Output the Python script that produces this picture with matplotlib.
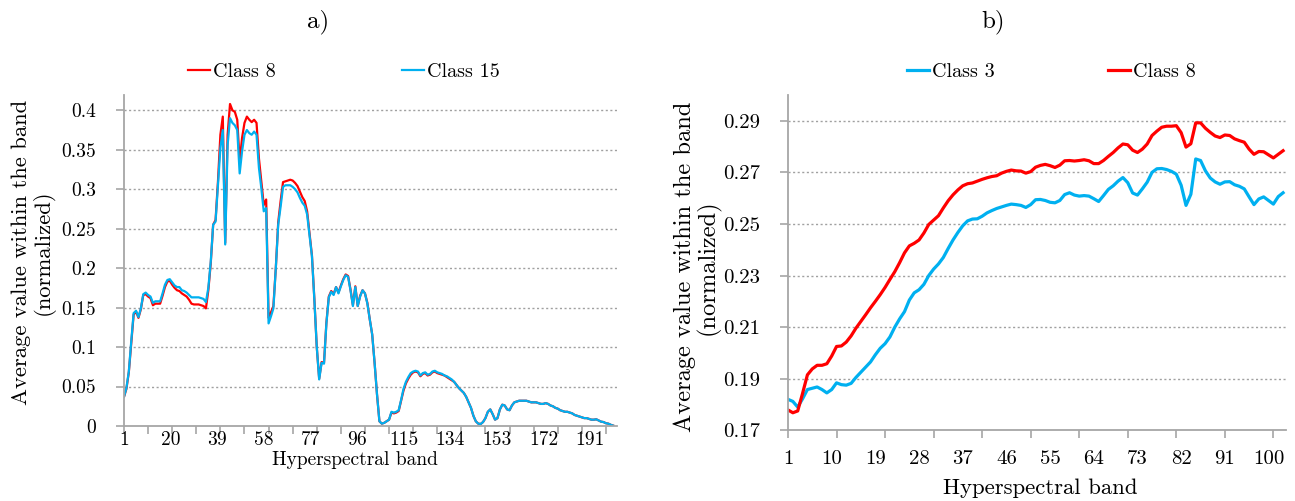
import matplotlib
matplotlib.use("Agg")
import matplotlib.pyplot as plt

plt.rcParams['font.family'] = ['cmr10', 'DejaVu Serif']
plt.rcParams['mathtext.fontset'] = 'cm'
plt.rcParams['axes.formatter.use_mathtext'] = True

# ---------------- panel a) ----------------
bands_a = list(range(1, 205))
class8_a = [
    .037, .047, .068, .105, .141, .145, .137, .148, .166, .167,
    .164, .162, .153, .155, .155, .155, .165, .176, .183, .184,
    .179, .175, .172, .171, .168, .166, .164, .160, .155, .154,
    .154, .154, .153, .152, .149, .172, .206, .255, .261, .310,
    .369, .392, .232, .369, .408, .400, .398, .388, .335, .365,
    .384, .392, .388, .385, .388, .384, .339, .310, .280, .287,
    .137, .144, .152, .200, .258, .285, .309, .310, .311, .312,
    .311, .308, .304, .297, .290, .285, .272, .244, .216, .161,
    .100, .060, .081, .080, .131, .164, .171, .167, .176, .169,
    .178, .186, .192, .190, .173, .153, .177, .152, .165, .172,
    .168, .156, .135, .116, .080, .040, .006, .003, .004, .006,
    .008, .017, .016, .017, .019, .032, .045, .054, .060, .065,
    .068, .069, .068, .063, .066, .067, .064, .065, .068, .069,
    .067, .066, .065, .064, .062, .060, .058, .056, .052, .048,
    .045, .042, .037, .030, .023, .013, .006, .003, .0025, .005,
    .010, .018, .021, .015, .008, .010, .021, .027, .026, .021,
    .020, .026, .030, .031, .032, .032, .032, .032, .031, .030,
    .030, .030, .029, .028, .028, .029, .028, .026, .025, .023,
    .022, .020, .019, .018, .018, .017, .016, .014, .013, .012,
    .011, .010, .010, .009, .008, .008, .0085, .007, .0055, .005,
    .0035, .003, .0015, .0005,
]
class15_a = [
    .037, .048, .069, .107, .143, .146, .138, .149, .167, .169,
    .166, .164, .156, .158, .158, .158, .168, .179, .185, .186,
    .182, .178, .176, .176, .172, .171, .169, .166, .163, .163,
    .163, .163, .162, .161, .157, .175, .208, .255, .259, .305,
    .352, .375, .230, .356, .390, .384, .381, .375, .320, .348,
    .369, .375, .371, .369, .373, .369, .327, .301, .272, .276,
    .130, .139, .149, .200, .255, .278, .303, .305, .305, .305,
    .303, .300, .296, .289, .283, .279, .268, .242, .215, .160,
    .100, .059, .080, .079, .130, .163, .170, .166, .176, .168,
    .177, .185, .191, .189, .172, .152, .176, .152, .164, .172,
    .168, .155, .135, .116, .080, .040, .006, .003, .004, .006,
    .008, .018, .017, .018, .020, .033, .047, .056, .062, .067,
    .069, .070, .069, .064, .067, .068, .065, .066, .069, .070,
    .068, .067, .066, .064, .063, .061, .059, .056, .052, .048,
    .045, .042, .037, .030, .023, .013, .006, .003, .0025, .005,
    .010, .018, .021, .015, .008, .010, .021, .027, .026, .021,
    .020, .026, .030, .031, .032, .032, .032, .032, .031, .030,
    .030, .030, .029, .028, .028, .029, .028, .026, .025, .023,
    .022, .020, .019, .018, .018, .017, .016, .014, .013, .012,
    .011, .010, .010, .009, .008, .008, .0085, .007, .0055, .005,
    .0035, .003, .0015, .0005,
]
xlabels_a = [1, 20, 39, 58, 77, 96, 115, 134, 153, 172, 191]
yticks_a = [0, 0.05, 0.1, 0.15, 0.2, 0.25, 0.3, 0.35, 0.4]
ytick_text_a = ['0', '0.05', '0.1', '0.15', '0.2', '0.25', '0.3', '0.35', '0.4']

# ---------------- panel b) ----------------
bands_b = list(range(1, 104))
class3_b = [
    .1820, .1812, .1790, .1822, .1858, .1863, .1868, .1858, .1845, .1858,
    .1884, .1877, .1875, .1882, .1905, .1925, .1945, .1965, .1993, .2018,
    .2036, .2062, .2100, .2132, .2160, .2205, .2233, .2245, .2266, .2300,
    .2325, .2345, .2370, .2405, .2438, .2467, .2493, .2512, .2519, .2520,
    .2530, .2543, .2552, .2560, .2566, .2572, .2577, .2575, .2572, .2564,
    .2575, .2594, .2595, .2591, .2584, .2582, .2591, .2614, .2621, .2612,
    .2608, .2610, .2608, .2598, .2587, .2610, .2634, .2648, .2666, .2680,
    .2660, .2620, .2612, .2636, .2662, .2700, .2714, .2715, .2711, .2704,
    .2693, .2650, .2572, .2615, .2752, .2746, .2706, .2678, .2663, .2654,
    .2663, .2664, .2652, .2646, .2636, .2605, .2575, .2597, .2605, .2591,
    .2577, .2606, .2621,
]
class8_b = [
    .1779, .1768, .1775, .1843, .1915, .1938, .1952, .1952, .1958, .1988,
    .2025, .2027, .2042, .2066, .2096, .2122, .2148, .2175, .2200, .2226,
    .2254, .2285, .2315, .2350, .2388, .2415, .2425, .2438, .2465, .2498,
    .2515, .2532, .2562, .2590, .2613, .2632, .2648, .2656, .2659, .2666,
    .2673, .2679, .2684, .2687, .2697, .2704, .2709, .2706, .2705, .2697,
    .2703, .2720, .2727, .2731, .2726, .2719, .2728, .2745, .2746, .2744,
    .2746, .2749, .2745, .2734, .2734, .2746, .2762, .2777, .2795, .2810,
    .2807, .2786, .2777, .2790, .2810, .2843, .2860, .2875, .2879, .2879,
    .2881, .2854, .2798, .2811, .2892, .2892, .2871, .2855, .2841, .2835,
    .2845, .2843, .2830, .2823, .2817, .2790, .2770, .2781, .2780, .2768,
    .2756, .2770, .2784,
]
xlabels_b = [1, 10, 19, 28, 37, 46, 55, 64, 73, 82, 91, 100]
yticks_b = [0.17, 0.19, 0.21, 0.23, 0.25, 0.27, 0.29]

RED = '#FF0000'
BLUE = '#00B0F0'
AXIS_GREY = '#A6A6A6'
GRID_GREY = '#A0A0A0'

fig = plt.figure(figsize=(12.95, 5.01), dpi=100)


def style_axes(ax, yticks, yticklabels, ymin, ymax, xmin, xmax, major_x, label_x,
               label_pos, xpad, fs):
    ax.set_xlim(xmin, xmax)
    ax.set_ylim(ymin, ymax)
    for side in ('top', 'right'):
        ax.spines[side].set_visible(False)
    for side in ('left', 'bottom'):
        ax.spines[side].set_color(AXIS_GREY)
        ax.spines[side].set_linewidth(1.3)
    ax.set_yticks(yticks)
    ax.set_yticklabels(yticklabels, fontsize=fs)
    # tick marks every 10 bands, category labels placed separately
    ax.xaxis.remove_overlapping_locs = False
    ax.set_xticks(major_x)
    ax.set_xticklabels([])
    ax.set_xticks(label_pos, minor=True)
    ax.set_xticklabels([str(v) for v in label_x], minor=True, fontsize=fs)
    ax.tick_params(axis='x', which='major', length=6, width=1.2, color=AXIS_GREY)
    ax.tick_params(axis='x', which='minor', length=0, pad=xpad)
    ax.tick_params(axis='y', length=6, width=1.2, color=AXIS_GREY, pad=14)
    for y in yticks[1:]:
        ax.axhline(y, color=GRID_GREY, lw=1.0, ls=(0, (1.5, 1.8)), zorder=0)


# panel a): category labels are spread slightly wider than the band grid
label_stretch_a = 1.018
label_pos_a = [1 + (v - 1) * label_stretch_a for v in xlabels_a]

ax1 = fig.add_axes([124 / 1295, 1 - 426 / 501, 493 / 1295, 331.5 / 501])
ax1.plot(bands_a, class8_a, color=RED, lw=1.6, label='Class 8')
ax1.plot(bands_a, class15_a, color=BLUE, lw=1.6, label='Class 15')
style_axes(ax1, yticks_a, ytick_text_a, 0, 0.42, 1, 205.6,
           list(range(1, 206, 10)), xlabels_a, label_pos_a, xpad=4, fs=14)
ax1.legend(loc='center', bbox_to_anchor=(0.446, 1.068), ncol=2, frameon=False,
           fontsize=14.5, handlelength=1.1, handletextpad=0.15,
           columnspacing=6.3, borderaxespad=0)

# panel b)
ax2 = fig.add_axes([788 / 1295, 1 - 430.3 / 501, 498 / 1295, 335.3 / 501])
ax2.plot(bands_b, class3_b, color=BLUE, lw=2.3, label='Class 3')
ax2.plot(bands_b, class8_b, color=RED, lw=2.3, label='Class 8')
style_axes(ax2, yticks_b, ['%.2f' % v for v in yticks_b], 0.17, 0.30, 1, 103.6,
           list(range(1, 104, 10)), xlabels_b, xlabels_b, xpad=14, fs=15)
ax2.legend(loc='center', bbox_to_anchor=(0.529, 1.069), ncol=2, frameon=False,
           fontsize=14.5, handlelength=1.1, handletextpad=0.15,
           columnspacing=5.6, borderaxespad=0)

# titles and axis captions
fig.text(318 / 1295, 1 - 22 / 501, 'a)', ha='center', va='center', fontsize=18)
fig.text(993 / 1295, 1 - 22 / 501, 'b)', ha='center', va='center', fontsize=18)
fig.text(355 / 1295, 1 - 460 / 501, 'Hyperspectral band', ha='center',
         va='center', fontsize=14)
fig.text(1040 / 1295, 1 - 488 / 501, 'Hyperspectral band', ha='center',
         va='center', fontsize=16.4)
fig.text(33 / 1295, 1 - 252 / 501, 'Average value within the band\n(normalized)',
         ha='center', va='center', rotation=90, fontsize=16.3,
         multialignment='center', linespacing=1.05)
fig.text(697 / 1295, 1 - 267 / 501, 'Average value within the band\n(normalized)',
         ha='center', va='center', rotation=90, fontsize=17.6,
         multialignment='center', linespacing=0.95)

fig.savefig('out.png', dpi=100)
